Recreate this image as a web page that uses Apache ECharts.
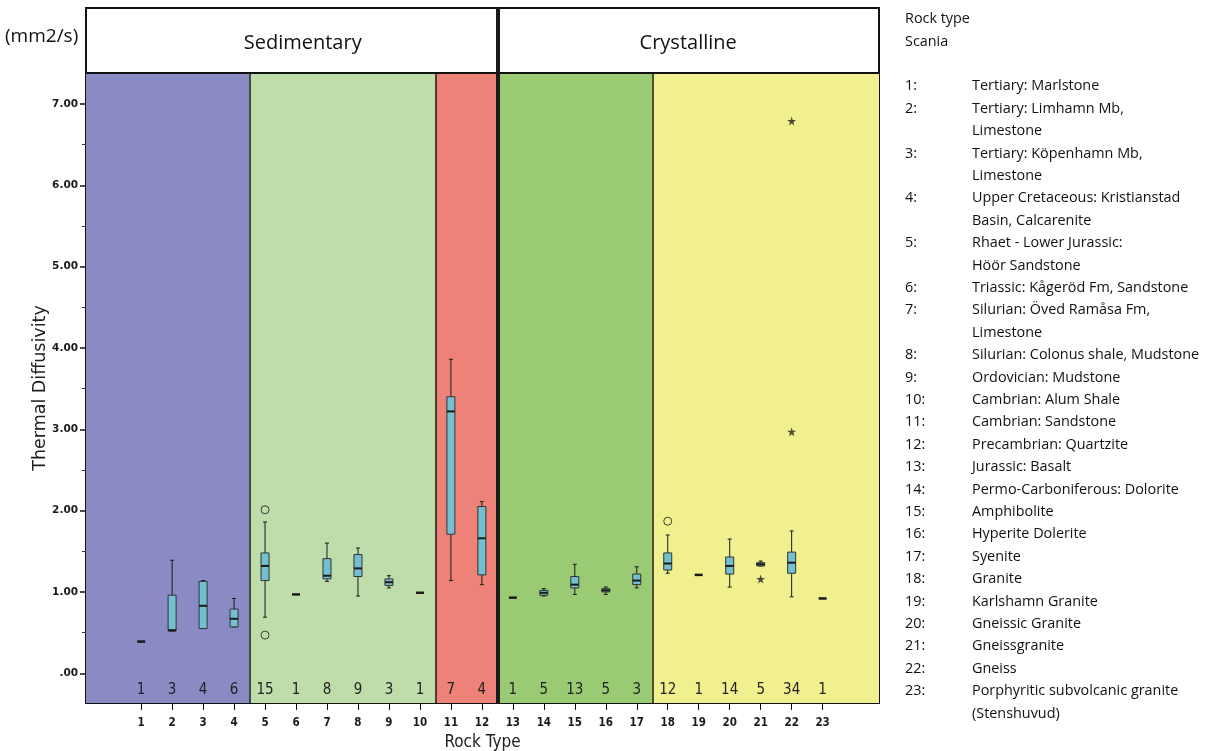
<!DOCTYPE html>
<html>
<head>
<meta charset="utf-8">
<script src="https://cdn.jsdelivr.net/npm/echarts@6/dist/echarts.min.js"></script>
<style>
  html, body { margin: 0; padding: 0; background: #fff; }
  #chart { width: 1214px; height: 751px; }
</style>
</head>
<body>
<div id="chart"></div>
<script>
// rock type codes on the x axis
const rockTypes = [1, 2, 3, 4, 5, 6, 7, 8, 9, 10, 11, 12, 13, 14, 15, 16, 17, 18, 19, 20, 21, 22, 23]
const counts = [1, 3, 4, 6, 15, 1, 8, 9, 3, 1, 7, 4, 1, 5, 13, 5, 3, 12, 1, 14, 5, 34, 1]

// box plot values (mm2/s)
const whiskerLow = [0.39, 0.52, 0.55, 0.57, 0.69, 0.97, 1.13, 0.95, 1.05, 0.99, 1.14, 1.09, 0.93, 0.95, 0.97, 0.97, 1.05, 1.23, 1.21, 1.06, 1.32, 0.94, 0.92]
const q1 = [0.39, 0.52, 0.55, 0.57, 1.14, 0.97, 1.16, 1.19, 1.08, 0.99, 1.71, 1.21, 0.93, 0.96, 1.05, 1.00, 1.09, 1.27, 1.21, 1.22, 1.32, 1.23, 0.92]
const median = [0.39, 0.53, 0.83, 0.67, 1.32, 0.97, 1.20, 1.29, 1.12, 0.99, 3.22, 1.66, 0.93, 0.99, 1.09, 1.02, 1.14, 1.35, 1.21, 1.32, 1.34, 1.36, 0.92]
const q3 = [0.39, 0.96, 1.13, 0.79, 1.48, 0.97, 1.41, 1.46, 1.16, 0.99, 3.40, 2.05, 0.93, 1.02, 1.19, 1.04, 1.22, 1.48, 1.21, 1.43, 1.36, 1.49, 0.92]
const whiskerHigh = [0.39, 1.39, 1.14, 0.92, 1.86, 0.97, 1.60, 1.54, 1.20, 0.99, 3.86, 2.11, 0.93, 1.04, 1.34, 1.06, 1.31, 1.70, 1.21, 1.65, 1.38, 1.75, 0.92]

// [rock type, value]
const outliers = [[5, 2.01], [5, 0.47], [18, 1.87]]
const extremes = [[21, 1.16], [22, 6.79], [22, 2.97]]

const yTicks = [0, 1, 2, 3, 4, 5, 6, 7]
const yHalfTicks = [0.5, 1.5, 2.5, 3.5, 4.5, 5.5, 6.5]

// background bands by rock group
const bandEdges = [-0.78, 4.5, 10.5, 12.5, 17.5, 24.82]
const bandColors = ['#8a8ac5', '#bfdcab', '#ee8278', '#9aca73', '#f0f08f']
const separators = [4.5, 10.5, 12.5, 17.5]
const groups = [
  { name: 'Sedimentary', from: -0.78, to: 12.5 },
  { name: 'Crystalline', from: 12.5, to: 24.82 },
]

const legendTitle = ['Rock type', 'Scania']
const legendNames = [
  ['Tertiary: Marlstone'],
  ['Tertiary: Limhamn Mb,', 'Limestone'],
  ['Tertiary: Köpenhamn Mb,', 'Limestone'],
  ['Upper Cretaceous: Kristianstad', 'Basin, Calcarenite'],
  ['Rhaet - Lower Jurassic:', 'Höör Sandstone'],
  ['Triassic: Kågeröd Fm, Sandstone'],
  ['Silurian: Öved Ramåsa Fm,', 'Limestone'],
  ['Silurian: Colonus shale, Mudstone'],
  ['Ordovician: Mudstone'],
  ['Cambrian: Alum Shale'],
  ['Cambrian: Sandstone'],
  ['Precambrian: Quartzite'],
  ['Jurassic: Basalt'],
  ['Permo-Carboniferous: Dolorite'],
  ['Amphibolite'],
  ['Hyperite Dolerite'],
  ['Syenite'],
  ['Granite'],
  ['Karlshamn Granite'],
  ['Gneissic Granite'],
  ['Gneissgranite'],
  ['Gneiss'],
  ['Porphyritic subvolcanic granite', '(Stenshuvud)'],
]

const X_MIN = -0.78
const X_MAX = 24.82
const Y_MIN = -0.365
const Y_MAX = 7.38
const textFont = '"Open Sans", "Noto Sans", sans-serif'
const narrowFont = '"Liberation Sans Narrow", "DejaVu Sans Condensed", "Liberation Sans", sans-serif'

const codeLines = [...legendTitle, '']
const nameLines = ['', '', '']
legendNames.forEach((lines, i) => {
  codeLines.push(rockTypes[i] + ':')
  for (let k = 1; k < lines.length; k++) codeLines.push('')
  nameLines.push(...lines)
})

const boxData = rockTypes.map((t, i) => [t, whiskerLow[i], q1[i], median[i], q3[i], whiskerHigh[i]])

const renderBox = (params, api) => {
  const x = api.value(0)
  const p = [1, 2, 3, 4, 5].map((d) => api.coord([x, api.value(d)]))
  const cx = p[0][0]
  const half = 4
  const cap = 2
  const line = (x1, y1, x2, y2, w) => ({
    type: 'line',
    shape: { x1, y1, x2, y2 },
    style: { stroke: '#1a1a1a', lineWidth: w },
  })
  if (counts[params.dataIndex] === 1) {
    return { type: 'group', children: [line(cx - half, p[2][1], cx + half, p[2][1], 2.5)] }
  }
  return {
    type: 'group',
    children: [
      line(cx, p[4][1], cx, p[3][1], 1),
      line(cx, p[0][1], cx, p[1][1], 1),
      line(cx - cap, p[4][1], cx + cap, p[4][1], 1),
      line(cx - cap, p[0][1], cx + cap, p[0][1], 1),
      {
        type: 'rect',
        shape: { x: cx - half, y: p[3][1], width: half * 2, height: p[1][1] - p[3][1] },
        style: { fill: '#74c0d2', stroke: '#333', lineWidth: 1 },
      },
      line(cx - half, p[2][1], cx + half, p[2][1], 2),
    ],
  }
}

const chart = echarts.init(document.getElementById('chart'))

chart.setOption({
  animation: false,
  grid: [
    { left: 86, right: 335, top: 73, bottom: 48, containLabel: false, outerBoundsMode: 'none' },
    { left: 86, right: 335, top: 8, height: 65, containLabel: false, outerBoundsMode: 'none' },
  ],
  xAxis: [
    {
      type: 'value', gridIndex: 0, min: X_MIN, max: X_MAX, position: 'bottom',
      splitLine: { show: false },
      axisLine: { onZero: false, lineStyle: { color: '#111', width: 2 } },
      axisTick: { customValues: rockTypes, length: 7, lineStyle: { color: '#111' } },
      axisLabel: {
        customValues: rockTypes, margin: 14, fontSize: 11.5, fontWeight: 'bold',
        color: '#1a1a1a', fontFamily: narrowFont,
      },
      name: 'Rock Type', nameLocation: 'middle', nameGap: 31,
      nameTextStyle: { fontSize: 17, color: '#222', fontFamily: narrowFont },
    },
    {
      type: 'value', gridIndex: 0, min: X_MIN, max: X_MAX, position: 'bottom', z: 10,
      splitLine: { show: false },
      axisLine: { show: false, onZero: false },
      axisTick: { show: false },
      axisLabel: {
        inside: true, customValues: rockTypes, margin: 5, fontSize: 15,
        color: '#222', fontFamily: narrowFont,
        formatter: (v) => String(counts[v - 1]),
      },
    },
    {
      type: 'value', gridIndex: 1, min: X_MIN, max: X_MAX, show: false,
    },
  ],
  yAxis: [
    {
      type: 'value', gridIndex: 0, min: Y_MIN, max: Y_MAX, position: 'left',
      splitLine: { show: false },
      axisLine: { onZero: false, lineStyle: { color: '#111', width: 2 } },
      axisTick: { customValues: yTicks, length: 6, lineStyle: { color: '#111', width: 1.5 } },
      axisLabel: {
        customValues: yTicks, margin: 8, fontSize: 10.5, fontWeight: 'bold',
        color: '#1a1a1a', fontFamily: '"DejaVu Sans", sans-serif',
        formatter: (v) => (v === 0 ? '.00' : v.toFixed(2)),
      },
      name: 'Thermal Diffusivity', nameLocation: 'middle', nameRotate: 90, nameGap: 37,
      nameMoveOverlap: false,
      nameTextStyle: { fontSize: 17.5, color: '#222', fontFamily: '"DejaVu Sans", sans-serif' },
    },
    {
      type: 'value', gridIndex: 0, min: Y_MIN, max: Y_MAX, position: 'left',
      splitLine: { show: false },
      axisLine: { show: false, onZero: false },
      axisTick: { customValues: yHalfTicks, length: 4, lineStyle: { color: '#333', width: 1 } },
      axisLabel: { show: false },
    },
    {
      type: 'value', gridIndex: 0, min: Y_MIN, max: Y_MAX, position: 'right',
      splitLine: { show: false },
      axisLine: { onZero: false, lineStyle: { color: '#111', width: 2 } },
      axisTick: { show: false },
      axisLabel: { show: false },
    },
    {
      type: 'value', gridIndex: 1, min: 0, max: 1, show: false,
    },
  ],
  graphic: [
    {
      type: 'text', left: 5, top: 27,
      style: { text: '(mm2/s)', fontSize: 19, fontFamily: textFont, fill: '#111' },
    },
    {
      type: 'text', left: 905, top: 8,
      style: { text: codeLines.join('\n'), fontSize: 14.4, lineHeight: 22.4, fontFamily: textFont, fill: '#111' },
    },
    {
      type: 'text', left: 972, top: 8,
      style: { text: nameLines.join('\n'), fontSize: 14.4, lineHeight: 22.4, fontFamily: textFont, fill: '#111' },
    },
  ],
  series: [
    {
      type: 'line', xAxisIndex: 0, yAxisIndex: 0, data: [], z: 1,
      markArea: {
        silent: true,
        data: bandColors.map((c, i) => [
          { xAxis: bandEdges[i], itemStyle: { color: c } },
          { xAxis: bandEdges[i + 1] },
        ]),
      },
      markLine: {
        silent: true, symbol: 'none', label: { show: false },
        data: separators.map((s) => ({
          xAxis: s,
          lineStyle: { color: '#1a1a1a', type: 'solid', width: s === 12.5 ? 4 : 1.5 },
        })),
      },
    },
    {
      type: 'line', xAxisIndex: 2, yAxisIndex: 3, data: [], z: 1,
      markArea: {
        silent: true,
        itemStyle: { color: '#fff', borderColor: '#111', borderWidth: 2 },
        label: { position: 'inside', offset: [0, 3], fontSize: 20, color: '#111', fontFamily: textFont },
        data: groups.map((g, i) => [
          { xAxis: g.from, name: g.name, label: { offset: [i === 0 ? 11 : 0, 3] } },
          { xAxis: g.to },
        ]),
      },
      markLine: {
        silent: true, symbol: 'none', label: { show: false },
        data: [{ xAxis: 12.5, lineStyle: { color: '#1a1a1a', type: 'solid', width: 4 } }],
      },
    },
    {
      type: 'custom', xAxisIndex: 0, yAxisIndex: 0, z: 3,
      renderItem: renderBox,
      encode: { x: 0, y: [1, 2, 3, 4, 5] },
      data: boxData,
    },
    {
      type: 'scatter', xAxisIndex: 0, yAxisIndex: 0, z: 4,
      symbol: 'circle', symbolSize: 8,
      itemStyle: { color: 'rgba(0,0,0,0)', borderColor: '#1a1a1a', borderWidth: 1 },
      data: outliers,
    },
    {
      type: 'scatter', xAxisIndex: 0, yAxisIndex: 0, z: 4,
      symbol: 'path://M50,0 L61,35 L98,35 L68,57 L79,91 L50,70 L21,91 L32,57 L2,35 L39,35 Z',
      symbolSize: 9,
      itemStyle: { color: '#222' },
      data: extremes,
    },
  ],
})

window.addEventListener('resize', () => chart.resize())
</script>
</body>
</html>
